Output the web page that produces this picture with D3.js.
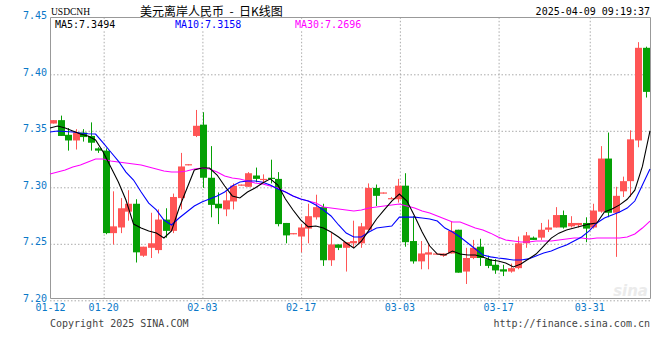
<!DOCTYPE html>
<html>
<head>
<meta charset="utf-8">
<style>
  body { margin: 0; background: #fff; }
  svg { display: block; }
  .mono { font-family: "DejaVu Sans Mono", monospace; font-size: 10px; }
  .axis text { fill: #0a78c8; font-family: "DejaVu Sans Mono", monospace; font-size: 10px; }
  .axis path, .axis line { stroke: none; }
  .grid line { stroke: #aaa; stroke-dasharray: 1.5,2; }
  .grid path { stroke: none; }
</style>
<script src="https://d3js.org/d3.v7.min.js"></script>
</head>
<body>
<svg width="660" height="360"></svg>
<script>
// daily candles, 01-12 .. 04-09 (80 sessions)
var opens  = [7.356,7.359,7.346,7.341,7.348,7.345,7.334,7.332,7.259,7.264,7.278,7.285,7.239,7.246,7.244,7.271,7.261,7.290,7.319,7.345,
              7.355,7.308,7.285,7.280,7.287,7.301,7.300,7.310,7.306,7.308,7.307,7.268,7.258,7.256,7.263,7.273,7.282,7.235,7.249,7.246,
              7.250,7.250,7.262,7.299,7.294,7.289,7.289,7.301,7.252,7.234,7.240,7.241,7.239,7.241,7.262,7.225,7.237,7.247,7.236,7.231,
              7.227,7.225,7.228,7.250,7.255,7.255,7.262,7.264,7.275,7.265,7.266,7.268,7.264,7.278,7.325,7.277,7.296,7.305,7.341,7.423];
var closes = [7.359,7.345,7.341,7.348,7.344,7.339,7.332,7.259,7.265,7.281,7.285,7.242,7.247,7.250,7.271,7.261,7.291,7.318,7.320,7.354,
              7.308,7.284,7.281,7.288,7.301,7.302,7.312,7.307,7.307,7.307,7.267,7.257,7.259,7.264,7.274,7.282,7.235,7.249,7.246,7.251,
              7.252,7.265,7.299,7.292,7.295,7.290,7.301,7.251,7.234,7.241,7.242,7.241,7.241,7.261,7.224,7.237,7.246,7.237,7.230,7.226,
              7.225,7.228,7.250,7.257,7.253,7.262,7.264,7.275,7.264,7.268,7.268,7.263,7.279,7.325,7.277,7.292,7.305,7.342,7.423,7.384];
var highs  = [7.359,7.363,7.352,7.351,7.351,7.357,7.335,7.334,7.296,7.290,7.297,7.289,7.247,7.277,7.280,7.281,7.294,7.330,7.320,7.368,
              7.366,7.336,7.295,7.296,7.303,7.302,7.313,7.317,7.311,7.324,7.313,7.268,7.259,7.267,7.285,7.293,7.285,7.259,7.249,7.251,
              7.270,7.268,7.303,7.302,7.295,7.291,7.307,7.312,7.274,7.252,7.249,7.241,7.241,7.269,7.262,7.246,7.253,7.254,7.239,7.236,
              7.231,7.232,7.256,7.260,7.256,7.268,7.271,7.282,7.279,7.274,7.268,7.273,7.285,7.336,7.348,7.300,7.309,7.350,7.428,7.424];
var lows   = [7.356,7.345,7.332,7.333,7.340,7.332,7.330,7.258,7.249,7.259,7.270,7.233,7.238,7.237,7.241,7.255,7.259,7.280,7.319,7.344,
              7.299,7.273,7.267,7.274,7.280,7.301,7.300,7.304,7.303,7.303,7.265,7.250,7.258,7.242,7.250,7.271,7.230,7.230,7.244,7.225,
              7.246,7.246,7.262,7.283,7.294,7.289,7.286,7.247,7.232,7.227,7.227,7.240,7.238,7.241,7.224,7.214,7.236,7.230,7.228,7.223,
              7.221,7.224,7.227,7.246,7.253,7.253,7.260,7.264,7.263,7.264,7.264,7.251,7.263,7.277,7.273,7.238,7.291,7.291,7.335,7.379];

var ma5  = [7.352,7.3538,7.352,7.3494,7.3467,7.345,7.3414,7.3308,7.3175,7.3042,7.2883,7.267,7.2635,7.2609,7.2591,7.2547,7.2609,7.2812,7.298,7.3149,
            7.3166,7.3166,7.3104,7.3007,7.2919,7.2901,7.2954,7.299,7.3034,7.307,7.3016,7.2892,7.2795,7.2707,7.2645,7.2653,7.2635,7.26,7.2556,7.2503,
            7.2458,7.252,7.2617,7.2715,7.2795,7.2874,7.2936,7.2874,7.2742,7.26,7.2476,7.2405,7.2396,7.2432,7.2405,7.2396,7.2396,7.2379,7.2352,7.2344,
            7.2326,7.2291,7.2317,7.2361,7.2405,7.2476,7.2546,7.259,7.2617,7.2635,7.2653,7.267,7.268,7.2777,7.2804,7.284,7.289,7.297,7.318,7.3494];
var ma10 = [7.3485,7.3494,7.349,7.3485,7.3476,7.347,7.3467,7.3388,7.3308,7.3228,7.313,7.306,7.2954,7.2856,7.2795,7.2706,7.2662,7.2724,7.2777,7.283,
            7.2866,7.2892,7.2919,7.2954,7.3007,7.3043,7.3051,7.3051,7.304,7.3016,7.298,7.2954,7.2919,7.2892,7.2874,7.2839,7.2795,7.2742,7.2662,7.2591,
            7.2556,7.2556,7.26,7.2635,7.2644,7.2653,7.2732,7.2732,7.2732,7.2724,7.2715,7.2697,7.2635,7.26,7.2556,7.2503,7.245,7.2397,7.238,7.237,
            7.2362,7.2352,7.2352,7.2362,7.2388,7.2415,7.2432,7.246,7.2485,7.252,7.2556,7.261,7.268,7.2724,7.2751,7.2777,7.2812,7.2874,7.3016,7.3158];
var ma30 = [7.3113,7.3131,7.3149,7.3175,7.3193,7.322,7.3246,7.3246,7.3228,7.322,7.3211,7.3202,7.3193,7.3175,7.3158,7.314,7.3131,7.3131,7.314,7.3158,
            7.3166,7.3158,7.3131,7.3096,7.3078,7.3069,7.3051,7.3034,7.3025,7.3007,7.299,7.2954,7.2919,7.2892,7.2874,7.2857,7.2821,7.2812,7.2803,7.2795,
            7.2786,7.2795,7.2812,7.2821,7.283,7.2839,7.2848,7.283,7.2812,7.2786,7.2768,7.2742,7.2715,7.2688,7.2688,7.2662,7.2635,7.2617,7.259,7.2555,
            7.2529,7.252,7.2511,7.2511,7.252,7.252,7.252,7.2529,7.2538,7.2547,7.2547,7.2538,7.2547,7.2547,7.2547,7.2547,7.2555,7.2582,7.2635,7.2696];

var tickIdx    = [0, 7, 20, 33, 46, 59, 71];
var tickLabels = ["01-12", "01-20", "02-03", "02-17", "03-03", "03-17", "03-31"];
var yTicks     = [7.20, 7.25, 7.30, 7.35, 7.40, 7.45];

var svg = d3.select("svg");
var pL = 50, pR = 650, pT = 17.3, pB = 299.8;
var n = closes.length;

var xLine = d3.scaleLinear().domain([0, n - 1]).range([pL, pR]);
var xCandle = d3.scaleLinear().domain([0, n - 1]).range([53, 645.5]);
var y = d3.scaleLinear().domain([7.20, 7.45]).range([pB, pT]);

var up = "#ff5555", down = "#05a005";

// grid
svg.append("g").attr("class", "grid")
  .attr("transform", "translate(" + pL + ",0.5)")
  .call(d3.axisLeft(y).tickValues(yTicks.slice(0, 5)).tickSize(-(pR - pL)).tickFormat(""));
svg.append("g").attr("class", "grid")
  .attr("transform", "translate(0.5," + pT + ")")
  .call(d3.axisBottom(xLine).tickValues(tickIdx.slice(1)).tickSize(pB - pT).tickFormat(""));

// frame
svg.append("path")
  .attr("d", "M50.5,17.5V298.5H650.5V17.5Z")
  .attr("fill", "none").attr("stroke", "#999");

// candles
var data = d3.range(n).map(function (i) {
  return { i: i, o: opens[i], c: closes[i], h: highs[i], l: lows[i] };
});
var cg = svg.append("g").selectAll("g.candle").data(data).enter().append("g").attr("class", "candle");
cg.append("line")
  .attr("x1", function (d) { return Math.round(xCandle(d.i)) + 0.5; })
  .attr("x2", function (d) { return Math.round(xCandle(d.i)) + 0.5; })
  .attr("y1", function (d) { return y(d.h); })
  .attr("y2", function (d) { return y(d.l); })
  .attr("stroke", function (d) { return d.c >= d.o ? up : down; });
cg.append("rect")
  .attr("x", function (d) { return Math.round(xCandle(d.i)) - 3; })
  .attr("width", 7)
  .attr("y", function (d) { return y(Math.max(d.o, d.c)); })
  .attr("height", function (d) { return Math.max(1.2, y(Math.min(d.o, d.c)) - y(Math.max(d.o, d.c))); })
  .attr("fill", function (d) { return d.c >= d.o ? up : down; });

// moving averages
var line = d3.line().x(function (d, i) { return xLine(i); }).y(function (d) { return y(d); });
[[ma30, "#ff00ff"], [ma10, "#0000ff"], [ma5, "#000000"]].forEach(function (s) {
  svg.append("path").datum(s[0]).attr("d", line)
    .attr("fill", "none").attr("stroke", s[1]).attr("stroke-width", 1.1);
});

// y axis labels
svg.append("g").attr("class", "axis")
  .attr("transform", "translate(" + (pL - 3) + ",-2)")
  .call(d3.axisLeft(y).tickValues(yTicks).tickSize(0).tickPadding(0).tickFormat(d3.format(".2f")));

// x axis labels
svg.append("g").attr("class", "axis")
  .attr("transform", "translate(0,304)")
  .call(d3.axisBottom(xLine).tickValues(tickIdx).tickSize(0).tickPadding(0)
    .tickFormat(function (d) { return tickLabels[tickIdx.indexOf(d)]; }));

// header
svg.append("text").attr("x", 51).attr("y", 15)
  .style("font-family", "Liberation Serif").style("font-size", "9.5px").text("USDCNH");
svg.append("text").attr("x", 140).attr("y", 16)
  .style("font-family", "Noto Sans CJK SC").style("font-size", "12px").style("white-space", "pre")
  .text("美元离岸人民币  -  日K线图");
svg.append("text").attr("class", "mono").attr("x", 650).attr("y", 15)
  .attr("text-anchor", "end").text("2025-04-09 09:19:37");

// MA legend
var legend = [["MA5:" + ma5[n - 1].toFixed(4), "#000", 55],
              ["MA10:" + ma10[n - 1].toFixed(4), "#0000ff", 175],
              ["MA30:" + ma30[n - 1].toFixed(4), "#ff00ff", 295]];
legend.forEach(function (l) {
  svg.append("rect").attr("x", l[2] - 2).attr("y", 19).attr("width", l[0].length * 6 + 3).attr("height", 11).attr("fill", "#fff");
  svg.append("text").attr("class", "mono").attr("x", l[2]).attr("y", 28).attr("fill", l[1]).text(l[0]);
});

// watermark
svg.append("text").attr("x", 648).attr("y", 296).attr("text-anchor", "end")
  .style("font-family", "DejaVu Sans").style("font-style", "italic").style("font-weight", "bold")
  .style("font-size", "15px").attr("fill", "#ebebeb").text("sina");

// footer
svg.append("text").attr("class", "mono").attr("x", 50).attr("y", 327).attr("fill", "#444")
  .text("Copyright 2025 SINA.COM");
svg.append("text").attr("class", "mono").attr("x", 650).attr("y", 327).attr("fill", "#444")
  .attr("text-anchor", "end").text("http://finance.sina.com.cn");
</script>
</body>
</html>
